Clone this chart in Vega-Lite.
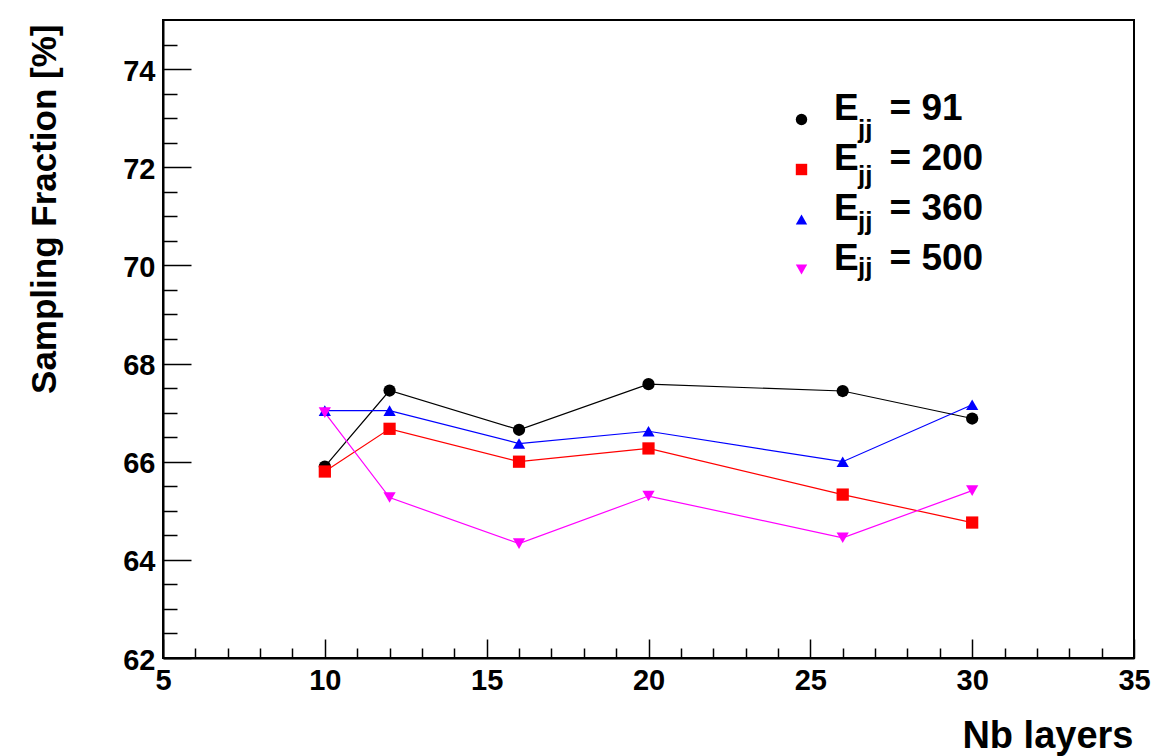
{
  "$schema": "https://vega.github.io/schema/vega-lite/v6.json",
  "autosize": {"type": "none"},
  "width": 971,
  "height": 638,
  "padding": {"left": 163, "top": 20, "right": 19, "bottom": 98},
  "background": "white",
  "config": {
    "view": {"stroke": "black", "strokeWidth": 2},
    "font": "Liberation Sans",
    "axis": {
      "grid": false,
      "domainColor": "black",
      "domainWidth": 2,
      "tickColor": "black",
      "tickWidth": 1.5,
      "labelFont": "Liberation Sans",
      "labelFontWeight": "bold",
      "labelFontSize": 29,
      "labelColor": "black",
      "labelOverlap": false,
      "labelFlush": false,
      "titleFont": "Liberation Sans",
      "titleFontWeight": "bold",
      "titleColor": "black"
    }
  },
  "data": {
    "values": [
      {"layers": 10, "fraction": 65.90, "ejj": "91"},
      {"layers": 12, "fraction": 67.45, "ejj": "91"},
      {"layers": 16, "fraction": 66.65, "ejj": "91"},
      {"layers": 20, "fraction": 67.58, "ejj": "91"},
      {"layers": 26, "fraction": 67.44, "ejj": "91"},
      {"layers": 30, "fraction": 66.88, "ejj": "91"},
      {"layers": 10, "fraction": 65.80, "ejj": "200"},
      {"layers": 12, "fraction": 66.67, "ejj": "200"},
      {"layers": 16, "fraction": 66.00, "ejj": "200"},
      {"layers": 20, "fraction": 66.27, "ejj": "200"},
      {"layers": 26, "fraction": 65.33, "ejj": "200"},
      {"layers": 30, "fraction": 64.76, "ejj": "200"},
      {"layers": 10, "fraction": 67.04, "ejj": "360"},
      {"layers": 12, "fraction": 67.04, "ejj": "360"},
      {"layers": 16, "fraction": 66.37, "ejj": "360"},
      {"layers": 20, "fraction": 66.62, "ejj": "360"},
      {"layers": 26, "fraction": 66.00, "ejj": "360"},
      {"layers": 30, "fraction": 67.16, "ejj": "360"},
      {"layers": 10, "fraction": 67.00, "ejj": "500"},
      {"layers": 12, "fraction": 65.27, "ejj": "500"},
      {"layers": 16, "fraction": 64.33, "ejj": "500"},
      {"layers": 20, "fraction": 65.30, "ejj": "500"},
      {"layers": 26, "fraction": 64.45, "ejj": "500"},
      {"layers": 30, "fraction": 65.41, "ejj": "500"}
    ]
  },
  "encoding": {
    "x": {
      "field": "layers",
      "type": "quantitative",
      "scale": {"domain": [5, 35], "nice": false, "zero": false},
      "axis": {
        "title": "Nb layers",
        "titleFontSize": 38,
        "values": [5, 6, 7, 8, 9, 10, 11, 12, 13, 14, 15, 16, 17, 18, 19, 20, 21, 22, 23, 24, 25, 26, 27, 28, 29, 30, 31, 32, 33, 34, 35],
        "format": "d",
        "labelExpr": "datum.value % 5 === 0 ? datum.label : ''",
        "tickSize": {"condition": {"test": "datum.value % 5 === 0", "value": -19}, "value": -10},
        "labelPadding": {"condition": {"test": "datum.value % 5 === 0", "value": 27}, "value": 18},
        "labelBaseline": "top",
        "titleAnchor": "end",
        "titleAlign": "right",
        "titleBaseline": "alphabetic",
        "titleX": 970,
        "titleY": 89
      }
    },
    "y": {
      "field": "fraction",
      "type": "quantitative",
      "scale": {"domain": [62, 75], "nice": false, "zero": false},
      "axis": {
        "title": "Sampling Fraction [%]",
        "titleFontSize": 35,
        "values": [62, 62.5, 63, 63.5, 64, 64.5, 65, 65.5, 66, 66.5, 67, 67.5, 68, 68.5, 69, 69.5, 70, 70.5, 71, 71.5, 72, 72.5, 73, 73.5, 74, 74.5],
        "format": ".0f",
        "labelExpr": "datum.value % 2 === 0 ? datum.label : ''",
        "tickSize": {"condition": {"test": "datum.value % 2 === 0", "value": -28}, "value": -14},
        "labelPadding": {"condition": {"test": "datum.value % 2 === 0", "value": 36}, "value": 22},
        "labelBaseline": "middle",
        "labelOffset": 2,
        "titleAngle": 270,
        "titleAlign": "right",
        "titleBaseline": "alphabetic",
        "titleX": -108,
        "titleY": 4
      }
    }
  },
  "layer": [
    {
      "mark": {"type": "line", "strokeWidth": 1.2},
      "encoding": {
        "color": {
          "field": "ejj",
          "type": "nominal",
          "scale": {"domain": ["91", "200", "360", "500"], "range": ["#000000", "#ff0000", "#0000ff", "#ff00ff"]},
          "legend": null
        }
      }
    },
    {
      "mark": {"type": "point", "filled": true, "opacity": 1},
      "encoding": {
        "shape": {
          "field": "ejj",
          "type": "nominal",
          "scale": {"domain": ["91", "200", "360", "500"], "range": ["circle", "square", "triangle-up", "triangle-down"]},
          "legend": {
            "title": null,
            "orient": "none",
            "legendX": 620,
            "legendY": 81,
            "padding": 0,
            "symbolSize": 130,
            "labelOffset": 14,
            "labelFont": "Liberation Sans",
            "labelFontWeight": "bold",
            "labelFontSize": 37,
            "labelColor": "black",
            "labelLimit": 0,
            "labelBaseline": "alphabetic",
            "rowPadding": 12,
            "labelExpr": "'E\u00a0\u00a0\u00a0= ' + datum.label"
          }
        },
        "color": {
          "field": "ejj",
          "type": "nominal",
          "scale": {"domain": ["91", "200", "360", "500"], "range": ["#000000", "#ff0000", "#0000ff", "#ff00ff"]},
          "legend": {
            "title": null,
            "orient": "none",
            "legendX": 620,
            "legendY": 81,
            "padding": 0,
            "symbolSize": 130,
            "labelOffset": 14,
            "labelFont": "Liberation Sans",
            "labelFontWeight": "bold",
            "labelFontSize": 37,
            "labelColor": "black",
            "labelLimit": 0,
            "labelBaseline": "alphabetic",
            "rowPadding": 12,
            "labelExpr": "'E\u00a0\u00a0\u00a0= ' + datum.label"
          }
        },
        "size": {
          "field": "ejj",
          "type": "ordinal",
          "sort": ["91", "200", "360", "500"],
          "scale": {"range": [150, 150, 150, 150]},
          "legend": {
            "title": null,
            "orient": "none",
            "legendX": 620,
            "legendY": 105,
            "padding": 0,
            "symbolOpacity": 0,
            "symbolStrokeWidth": 0,
            "labelOffset": 49,
            "labelFont": "Liberation Sans",
            "labelFontWeight": "bold",
            "labelFontSize": 26,
            "labelColor": "black",
            "labelLimit": 0,
            "labelBaseline": "alphabetic",
            "rowPadding": 18,
            "labelExpr": "'jj'"
          }
        }
      }
    }
  ],
  "resolve": {"legend": {"color": "independent", "shape": "independent", "size": "independent"}}
}
